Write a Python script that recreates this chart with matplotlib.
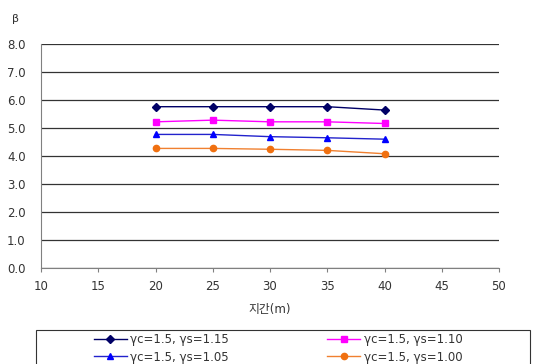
import matplotlib.pyplot as plt
from matplotlib.patches import Rectangle

plt.rcParams['font.family'] = ['DejaVu Sans', 'Noto Sans CJK KR']

span = [20, 25, 30, 35, 40]
beta_115 = [5.75, 5.75, 5.75, 5.75, 5.63]
beta_110 = [5.21, 5.27, 5.21, 5.21, 5.15]
beta_105 = [4.76, 4.76, 4.68, 4.64, 4.59]
beta_100 = [4.26, 4.26, 4.23, 4.19, 4.07]

labels = ['γc=1.5, γs=1.15', 'γc=1.5, γs=1.10',
          'γc=1.5, γs=1.05', 'γc=1.5, γs=1.00']

fig = plt.figure(figsize=(5.34, 3.64), dpi=100)
ax = fig.add_axes([41/534, 1 - 267.7/364, 458/534, 224/364])

ax.plot(span, beta_115, color='#000066', lw=1, marker='D', ms=4)
ax.plot(span, beta_110, color='#FF00FF', lw=1, marker='s', ms=4.5)
ax.plot(span, beta_105, color='#2222CC', lw=1, marker='^', ms=5, mfc='#0000FF', mec='#0000FF')
ax.plot(span, beta_100, color='#F08030', lw=1, marker='o', ms=4.5, mfc='#F07010', mec='#F07010')

ax.set_xlim(10, 50)
ax.set_ylim(0, 8)
ax.set_xticks(range(10, 51, 5))
ax.set_yticks([i for i in range(0, 9)])
ax.set_yticklabels([f'{i:.1f}' for i in range(0, 9)])
ax.yaxis.grid(True, color='#333333', lw=0.9)
ax.set_axisbelow(True)
for s in ['top', 'right']:
    ax.spines[s].set_visible(False)
ax.spines['left'].set_color('#808080')
ax.spines['bottom'].set_color('#808080')
ax.tick_params(axis='y', length=0, pad=11, labelsize=8.5, colors='#333333')
ax.tick_params(axis='x', length=3, direction='out', color='#808080',
               pad=6, labelsize=8.5, labelcolor='#333333')
ax.set_xlabel('지간(m)', fontsize=8.5, color='#333333', labelpad=7)
fig.text(12/534, 1 - 19/364, 'β', fontsize=8, color='#333333', va='center')

# legend box runs off the bottom of the figure
fig.patches.append(Rectangle((36/534, -0.1), 494/534, 0.1 + 34/364,
                             transform=fig.transFigure, fill=False,
                             ec='#333333', lw=0.8))
lines = ax.get_lines()
order = [0, 2, 1, 3]
fig.legend([lines[i] for i in order], [labels[i] for i in order],
           ncol=2, frameon=False, loc='upper left',
           bbox_to_anchor=(88/534, 1 - 327/364), fontsize=8.5,
           handlelength=2.8, handletextpad=0.3, columnspacing=8.3,
           labelspacing=0.4, borderpad=0, labelcolor='#333333')

fig.savefig('out.png', dpi=100)
